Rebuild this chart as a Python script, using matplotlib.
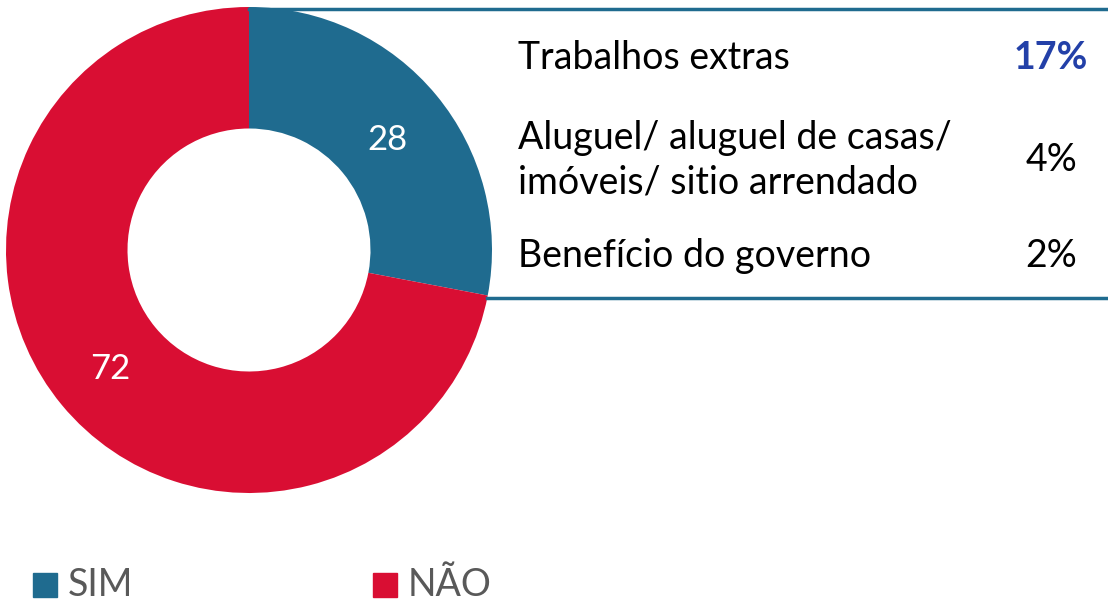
import matplotlib
matplotlib.use("Agg")
import matplotlib.pyplot as plt
from matplotlib.lines import Line2D
from matplotlib.patches import Rectangle
import numpy as np

plt.rcParams['font.family'] = ['Lato', 'DejaVu Sans']

categorias = ["SIM", "NÃO"]
valores = [28, 72]
cores = ["#1F6B8F", "#D90E33"]

fontes = ["Trabalhos extras", "Aluguel/ aluguel de casas/\nimóveis/ sitio arrendado", "Benefício do governo"]
fontes_pct = ["17%", "4%", "2%"]

W, H = 1108, 605
fig = plt.figure(figsize=(W / 100, H / 100), dpi=100)

# rosca
ax = fig.add_axes([6 / W, (H - 493) / H, 486 / W, 486 / H])
ax.pie(valores, colors=cores, startangle=90, counterclock=False,
       radius=1, wedgeprops=dict(width=0.5, edgecolor='none'))
ax.set_xlim(-1, 1)
ax.set_ylim(-1, 1)
ax.set_aspect('equal')
ax.axis('off')

# rótulos de valor
ang = 90
for v in valores:
    meio = ang - v / 100 * 360 / 2
    ang -= v / 100 * 360
    r = 0.74
    ax.text(r * np.cos(np.radians(meio)), r * np.sin(np.radians(meio)) - 0.02, str(v),
            color='white', fontsize=25, ha='center', va='center')

# caixa à direita
def px(x, y):
    return x / W, 1 - y / H

linha = "#1F6B8F"
fig.add_artist(Line2D([249 / W, 1], [1 - 9 / H] * 2, color=linha, lw=2.5))
fig.add_artist(Line2D([487 / W, 1], [1 - 298 / H] * 2, color=linha, lw=2.5))

ys = [58, 160, 256]
for i, (txt, pct) in enumerate(zip(fontes, fontes_pct)):
    x, y = px(518, ys[i])
    fig.text(x, y, txt, fontsize=27, ha='left', va='center', color='black',
             linespacing=1.3)
    if i == 0:
        xr, _ = px(1088, 0)
        fig.text(xr, y, pct, fontsize=27, ha='right', va='center',
                 color='#2340A8', fontweight='bold')
    else:
        xr, _ = px(1077, 0)
        fig.text(xr, y, pct, fontsize=27, ha='right', va='center', color='black')

# legenda
leg_x = [33, 373]
for i, cat in enumerate(categorias):
    x0, y0 = px(leg_x[i], 597)
    fig.add_artist(Rectangle((x0, y0), 24 / W, 24 / H, color=cores[i],
                             transform=fig.transFigure))
    xt, yt = px(leg_x[i] + 35, 585)
    fig.text(xt, yt, cat, fontsize=27, ha='left', va='center', color='#595959')

fig.savefig("out.png", dpi=100)
